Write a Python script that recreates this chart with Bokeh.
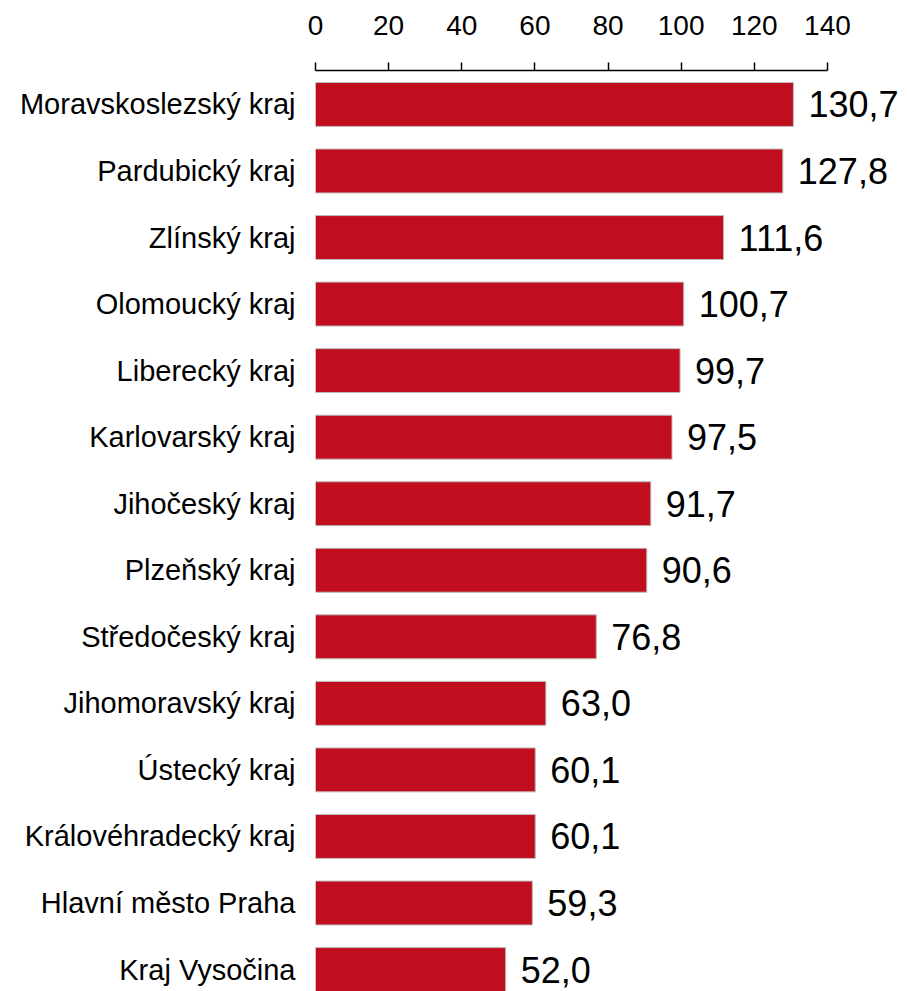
from bokeh.plotting import figure
from bokeh.models import Range1d, FixedTicker, ColumnDataSource
from bokeh.core.properties import value
from bokeh.embed import file_html
from bokeh.resources import INLINE

regions = [
    "Moravskoslezský kraj", "Pardubický kraj", "Zlínský kraj", "Olomoucký kraj",
    "Liberecký kraj", "Karlovarský kraj", "Jihočeský kraj", "Plzeňský kraj",
    "Středočeský kraj", "Jihomoravský kraj", "Ústecký kraj",
    "Královéhradecký kraj", "Hlavní město Praha", "Kraj Vysočina",
]
values = [130.7, 127.8, 111.6, 100.7, 99.7, 97.5, 91.7, 90.6, 76.8, 63.0, 60.1, 60.1, 59.3, 52.0]
x_ticks = [0, 20, 40, 60, 80, 100, 120, 140]

FONT = "Liberation Sans"
pos = list(range(len(regions)))
labels = [f"{v:.1f}".replace(".", ",") for v in values]
src = ColumnDataSource(dict(y=pos, v=values, lab=labels))

p = figure(width=907, height=991, output_backend="svg", toolbar_location=None,
           x_range=Range1d(0, 161.9), y_range=Range1d(13.33, -0.51),
           x_axis_location="above", min_border_left=315, min_border_top=70,
           min_border_right=0, min_border_bottom=0)
p.outline_line_color = None
p.xgrid.visible = False
p.ygrid.visible = False
p.background_fill_color = "white"
p.border_fill_color = "white"

p.hbar(y="y", right="v", left=0, height=0.66, source=src,
       fill_color="#C00E1F", line_color="#BBBBBB", line_width=1)
p.text(x="v", y="y", text="lab", source=src, x_offset=15,
       text_font=value(FONT), text_font_size="36px", text_color="black",
       text_baseline="middle", text_align="left")

xa = p.xaxis[0]
xa.ticker = FixedTicker(ticks=x_ticks)
xa.bounds = (0, 140)
xa.minor_tick_line_color = None
xa.major_tick_out = 8
xa.major_tick_in = 0
xa.axis_line_color = "black"
xa.axis_line_width = 1.5
xa.major_tick_line_color = "black"
xa.major_tick_line_width = 1.5
xa.major_label_text_font = FONT
xa.major_label_text_font_size = "28px"
xa.major_label_text_color = "black"
xa.major_label_standoff = 28

ya = p.yaxis[0]
ya.ticker = FixedTicker(ticks=pos)
ya.major_label_overrides = {i: r for i, r in zip(pos, regions)}
ya.axis_line_color = None
ya.major_tick_line_color = None
ya.minor_tick_line_color = None
ya.major_tick_out = 0
ya.major_tick_in = 0
ya.major_label_text_font = FONT
ya.major_label_text_font_size = "29px"
ya.major_label_text_color = "black"
ya.major_label_standoff = 20

open("out.html", "w").write(file_html(p, INLINE))
